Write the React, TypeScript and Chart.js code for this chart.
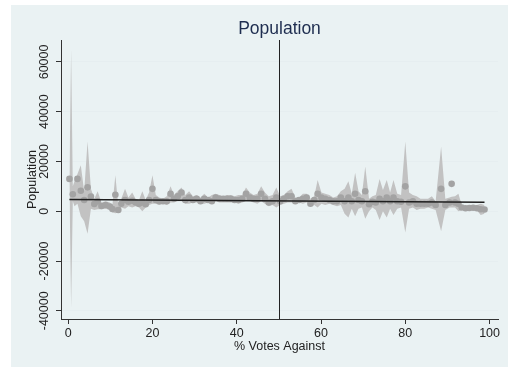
import React, { useEffect, useRef } from "react";
import { Chart, registerables } from "chart.js";

Chart.register(...registerables);

const TITLE = "Population";
const X_TITLE = "% Votes Against";
const Y_TITLE = "Population";
const X_TICKS = [0, 20, 40, 60, 80, 100];
const Y_TICKS = [-40000, -20000, 0, 20000, 40000, 60000];
const X_MIN = -1.7;
const X_MAX = 102;
const Y_MIN = -43300;
const Y_MAX = 68800;
const CUTOFF = 50;

const binX = [
  0.3, 0.7, 1.1, 1.5, 2.2, 3.0, 3.8, 4.6, 5.4, 6.2, 7.0, 7.9, 8.9, 9.9, 10.5, 11.2, 11.9, 12.6, 13.5, 14.3,
  15.2, 16.0, 16.8, 17.6, 18.4, 19.2, 20.0, 20.8, 21.6, 22.5, 23.4, 24.3, 25.1, 26.0, 26.9, 27.8, 28.7, 29.6, 30.5, 31.4,
  32.3, 33.2, 34.1, 35.0, 35.9, 36.8, 37.7, 38.6, 39.5, 40.4, 41.3, 42.2, 43.1, 44.0, 44.9, 45.8, 46.7, 47.6, 48.5, 49.4,
  50.3, 51.2, 52.1, 53.0, 53.9, 54.8, 55.7, 56.6, 57.5, 58.4, 59.2, 60.1, 61.0, 62.0, 62.9, 63.8, 64.7, 65.6, 66.5, 67.3,
  68.1, 68.9, 69.7, 70.5, 71.4, 72.2, 73.0, 73.9, 74.7, 75.6, 76.4, 77.2, 78.1, 79.0, 80.0, 80.9, 81.8, 82.7, 83.6, 84.5,
  85.4, 86.3, 87.2, 88.5, 89.5, 90.5, 91.0, 91.8, 92.6, 93.4, 94.3, 95.2, 96.1, 97.0, 97.9, 98.8,
];

const binLo = [
  11000, -39000, 4000, 2000, 3000, -2000, -4000, -9000, 1000, 500, 800, 800, 1000, 500, -500, -800, -500, 1500, 1000, 2000,
  1500, 2000, 1500, 0, 1500, 2500, 3000, 3000, 2500, 3000, 2500, 3500, 3500, 4000, 4000, 3000, 3000, 3500, 3500, 3000,
  3000, 3500, 3000, 4000, 3500, 3500, 3500, 3500, 3500, 3000, 3500, 4000, 4000, 3500, 3000, 4000, 3000, 2000, 2500, 1500,
  2500, 3000, 3500, 3500, 3000, 3500, 3000, 3500, 2000, 2500, 1500, 3000, 2500, 3000, 2500, 2000, 2500, -1000, -2500, 1000,
  -2000, 1000, 1500, -3000, 0, 1500, 500, -3500, 0, -2500, 1000, -1500, 1000, 1500, -8500, 1000, 1500, 500, 1000, 1000,
  1500, 1000, 500, -8000, 500, 1500, 1500, 1500, 0, 500, 500, 500, 600, 300, -1500, -1000,
];

const binHi = [
  14000, 65000, 10000, 12000, 15000, 18500, 8000, 28000, 9000, 5000, 8000, 3500, 4000, 3500, 2500, 14500, 2000, 5000, 9000, 5500,
  7500, 5000, 4500, 8000, 4500, 7500, 14500, 6500, 5500, 5000, 6000, 10000, 6500, 8000, 9500, 6500, 8000, 6000, 6500, 5500,
  7000, 5500, 6500, 7000, 6500, 6000, 6500, 6500, 6000, 6500, 6500, 9500, 7500, 6500, 7000, 10000, 7500, 6000, 6500, 9500,
  6000, 6500, 8000, 9000, 5500, 5500, 7000, 7000, 5000, 6000, 12500, 7500, 7000, 6500, 5500, 6000, 8000, 9000, 12000, 7000,
  15500, 8000, 6500, 18000, 5000, 6000, 6500, 13000, 8500, 12500, 7500, 12500, 7000, 6500, 28000, 7500, 6500, 6000, 5000, 5000,
  5000, 6000, 4000, 26000, 5000, 5500, 5800, 6000, 7000, 2500, 2000, 2000, 2200, 2500, 3000, 2500,
];

const binMean: (number | null)[] = [
  13000, null, 6800, null, 13000, 8200, 4500, 9600, 5900, 2900, 3900, 2100, 2500, 1900, 900, 6600, 500, 3000, 4500, 3800,
  4200, 3500, 3000, 3500, 2800, 4500, 9000, 4500, 4000, 4000, 4000, 7000, 5000, 6000, 7500, 4500, 5500, 4500, 5000, 4000,
  5000, 4500, 4000, 5500, 5000, 5000, 5000, 5000, 4500, 4500, 5000, 7000, 5500, 5000, 5000, 7000, 5000, 3500, 4000, 5500,
  4000, 5000, 6000, 6000, 4000, 4500, 5000, 5500, 3000, 4500, 7000, 5500, 5000, 4500, 4000, 4000, 5500, 4000, 5500, 4000,
  7000, 4500, 4000, 8000, 2800, 3800, 3500, 5000, 4000, 5500, 4000, 5500, 4000, 3800, 10000, 3500, 4000, 3000, 3000, 3000,
  3000, 3500, 2500, 9000, 2500, 3500, 11000, 3500, 3000, 1500, 1200, 1300, 1400, 1200, 800, 700,
];

const fitX = [0.3, 98.8];
const fitY = [4700, 3650];

const FONT = "'Liberation Sans', Arial, sans-serif";

export default function App() {
  const ref = useRef<HTMLCanvasElement | null>(null);

  useEffect(() => {
    if (!ref.current) return;
    const textPlugin = {
      id: "stataText",
      afterDatasetsDraw(chart: any) {
        const { ctx, chartArea, scales } = chart;
        const xs = scales.x;
        const px = xs.getPixelForValue(CUTOFF);
        ctx.save();
        ctx.strokeStyle = "#222";
        ctx.lineWidth = 1;
        ctx.beginPath();
        ctx.moveTo(Math.round(px) + 0.5, chartArea.top);
        ctx.lineTo(Math.round(px) + 0.5, chartArea.bottom);
        ctx.stroke();
        ctx.restore();
      },
      afterDraw(chart: any) {
        const { ctx, chartArea, scales } = chart;
        ctx.save();
        ctx.fillStyle = "#1E2D4F";
        ctx.font = `17.5px ${FONT}`;
        ctx.textAlign = "center";
        ctx.textBaseline = "middle";
        const cx = (chartArea.left + chartArea.right) / 2;
        ctx.fillText(TITLE, cx, 24);

        ctx.fillStyle = "#222";
        ctx.font = `12.5px ${FONT}`;
        for (const v of X_TICKS) {
          ctx.fillText(String(v), scales.x.getPixelForValue(v), 328.5);
        }
        ctx.fillText(X_TITLE, cx, 342);

        for (const v of Y_TICKS) {
          const py = scales.y.getPixelForValue(v);
          ctx.save();
          ctx.translate(34, py);
          ctx.rotate(-Math.PI / 2);
          ctx.fillText(String(v), 0, 0);
          ctx.restore();
        }
        ctx.save();
        ctx.translate(21.5, (chartArea.top + chartArea.bottom) / 2);
        ctx.rotate(-Math.PI / 2);
        ctx.fillText(Y_TITLE, 0, 0);
        ctx.restore();
        ctx.restore();
      },
    };

    const bandHi = binX.map((x, i) => ({ x, y: binHi[i] }));
    const bandLo = binX.map((x, i) => ({ x, y: binLo[i] }));
    const dots = binX
      .map((x, i) => (binMean[i] == null ? null : { x, y: binMean[i] as number }))
      .filter((d) => d !== null);
    const fit = fitX.map((x, i) => ({ x, y: fitY[i] }));

    const chart = new Chart(ref.current, {
      type: "scatter",
      data: {
        datasets: [
          {
            type: "line",
            data: fit,
            borderColor: "#1f1f1f",
            borderWidth: 1.5,
            pointRadius: 0,
            fill: false,
            order: 1,
          } as any,
          {
            type: "scatter",
            data: dots,
            backgroundColor: "#A3A3A3",
            borderWidth: 0,
            pointRadius: 3.3,
            order: 2,
          } as any,
          {
            type: "line",
            data: bandHi,
            borderWidth: 0,
            borderColor: "rgba(0,0,0,0)",
            backgroundColor: "#C2C2C2",
            pointRadius: 0,
            fill: "+1",
            tension: 0,
            order: 3,
          } as any,
          {
            type: "line",
            data: bandLo,
            borderWidth: 0,
            borderColor: "rgba(0,0,0,0)",
            backgroundColor: "#C2C2C2",
            pointRadius: 0,
            fill: false,
            tension: 0,
            order: 3,
          } as any,
        ],
      },
      options: {
        responsive: false,
        animation: false,
        devicePixelRatio: 1,
        layout: { padding: { top: 35, right: 10, left: 0, bottom: 0 } },
        plugins: {
          legend: { display: false },
          tooltip: { enabled: false },
          title: { display: false },
        },
        scales: {
          x: {
            type: "linear",
            min: X_MIN,
            max: X_MAX,
            afterBuildTicks: (s: any) => {
              s.ticks = X_TICKS.map((v) => ({ value: v }));
            },
            afterFit: (s: any) => {
              s.height = 48;
            },
            ticks: { display: false },
            grid: {
              drawOnChartArea: false,
              drawTicks: true,
              tickLength: 5,
              tickColor: "#333",
            },
            border: { color: "#333", width: 1 },
          },
          y: {
            type: "linear",
            min: Y_MIN,
            max: Y_MAX,
            afterBuildTicks: (s: any) => {
              s.ticks = Y_TICKS.map((v) => ({ value: v }));
            },
            afterFit: (s: any) => {
              s.width = 50;
            },
            ticks: { display: false },
            grid: {
              color: "#E6EEF0",
              lineWidth: 1,
              drawTicks: true,
              tickLength: 5,
              tickColor: "#333",
            },
            border: { color: "#333", width: 1 },
          },
        },
      },
      plugins: [textPlugin],
    });
    return () => chart.destroy();
  }, []);

  return (
    <div
      style={{
        position: "fixed",
        left: 11,
        top: 5,
        width: 497,
        height: 362,
        background: "#EAF2F3",
      }}
    >
      <canvas ref={ref} width={497} height={362} style={{ display: "block", width: 497, height: 362 }} />
    </div>
  );
}
